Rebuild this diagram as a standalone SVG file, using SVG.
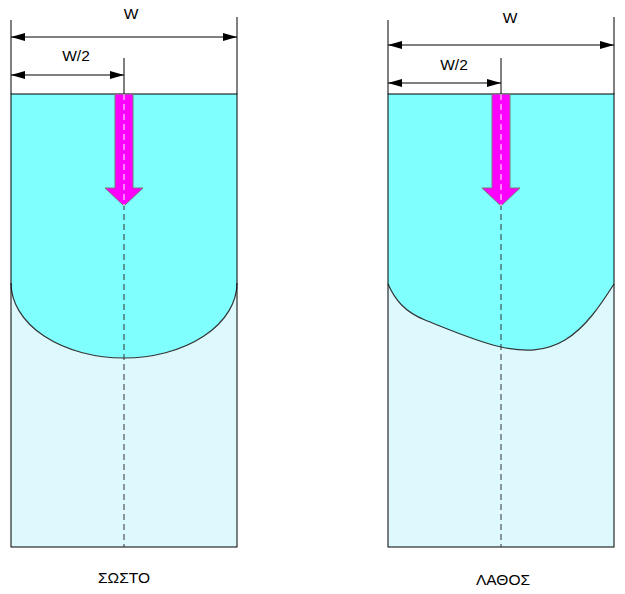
<svg xmlns="http://www.w3.org/2000/svg" width="625" height="594" viewBox="0 0 625 594">
<style>
text{font-family:"Liberation Sans",Arial,sans-serif;font-size:15.5px;fill:#000;text-anchor:middle}
.light{fill:#DEF9FD}
.dark{fill:#80FFFF}
.edge{fill:none;stroke:#000;stroke-width:1}
.curve{fill:none;stroke:#333;stroke-width:1.2}
.dim{stroke:#000;stroke-width:1;fill:none}
.dash{stroke:#333;stroke-width:1;stroke-dasharray:6,4;fill:none}
.push{fill:#FF00FF;stroke:#777;stroke-width:1}
</style>
<defs>
<marker id="ah" markerWidth="14" markerHeight="8" refX="14" refY="4" orient="auto-start-reverse" markerUnits="userSpaceOnUse">
<path d="M0,0 L14,4 L0,8 Z" fill="#000"/>
</marker>
</defs>
<g id="left-panel">
<rect class="light" x="11" y="94" width="226" height="453"/>
<path class="dark" d="M11,94 H237 V283 A113,75 0 0 1 11,283 Z"/>
<path class="curve" d="M237,283 A113,75 0 0 1 11,283"/>
<rect class="edge" x="11" y="94" width="226" height="453"/>
<line class="dash" x1="124" y1="94" x2="124" y2="547"/>
<path class="push" d="M115,94 H133 V188 H143 L124,206 L105,188 H115 Z"/>
<line class="dash" x1="124" y1="94" x2="124" y2="206" style="stroke:#fff"/>
<text x="124" y="583">ΣΩΣΤΟ</text>
</g>
<g id="right-panel">
<rect class="light" x="388" y="94" width="226" height="453"/>
<path class="dark" d="M388,94 H614 V284 C600,306 585,328 565,340 C545,352 524,352 501,347 C478,342 455,332 425,320 C405,312 395,300 388,284 Z"/>
<path class="curve" d="M388,284 C395,300 405,312 425,320 C455,332 478,342 501,347 C524,352 545,352 565,340 C585,328 600,306 614,284"/>
<rect class="edge" x="388" y="94" width="226" height="453"/>
<line class="dash" x1="501" y1="94" x2="501" y2="547"/>
<path class="push" d="M492,94 H510 V188 H520 L501,206 L482,188 H492 Z"/>
<line class="dash" x1="501" y1="94" x2="501" y2="206" style="stroke:#fff"/>
<text x="503" y="585">ΛΑΘΟΣ</text>
</g>
<g id="dimensions">
<line class="dim" x1="11" y1="20" x2="11" y2="94"/>
<line class="dim" x1="237" y1="17" x2="237" y2="94"/>
<line class="dim" x1="124" y1="58" x2="124" y2="94"/>
<line class="dim" x1="11" y1="37" x2="237" y2="37" marker-start="url(#ah)" marker-end="url(#ah)"/>
<line class="dim" x1="11" y1="75" x2="124" y2="75" marker-start="url(#ah)" marker-end="url(#ah)"/>
<text x="131" y="19">W</text>
<text x="76" y="61">W/2</text>
<line class="dim" x1="388" y1="20" x2="388" y2="94"/>
<line class="dim" x1="614" y1="17" x2="614" y2="94"/>
<line class="dim" x1="501" y1="58" x2="501" y2="94"/>
<line class="dim" x1="388" y1="45" x2="614" y2="45" marker-start="url(#ah)" marker-end="url(#ah)"/>
<line class="dim" x1="388" y1="83" x2="501" y2="83" marker-start="url(#ah)" marker-end="url(#ah)"/>
<text x="510" y="23">W</text>
<text x="454" y="70">W/2</text>
</g>
</svg>
